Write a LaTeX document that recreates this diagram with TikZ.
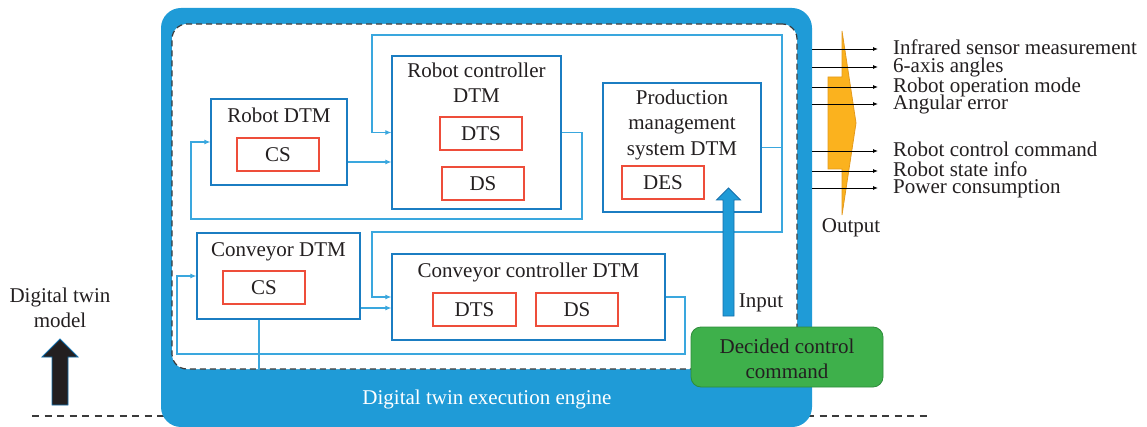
\documentclass[tikz,border=0pt]{standalone}
\usepackage{fontspec}
\setmainfont{Liberation Serif}
\usetikzlibrary{arrows.meta}

\definecolor{engblue}{HTML}{1F9BD7}
\definecolor{engedge}{HTML}{1670AC}
\definecolor{boxblue}{HTML}{1B7DC2}
\definecolor{lineblue}{HTML}{3AA7DE}
\definecolor{csred}{HTML}{EE4D3A}
\definecolor{txt}{HTML}{231F20}
\definecolor{cmdgreen}{HTML}{3EB04B}
\definecolor{cmdgreenedge}{HTML}{2F8B3B}
\definecolor{outorange}{HTML}{FBB21E}
\definecolor{outorangeedge}{HTML}{E49A1D}
\definecolor{dashgray}{HTML}{3A3A3A}

\begin{document}
\begin{tikzpicture}[x=1pt,y=-1pt,
  font=\fontsize{21}{24}\selectfont, text=txt,
  dtm/.style={draw=boxblue, line width=1.2pt, fill=white, inner sep=0pt},
  subbox/.style={draw=csred, line width=1.2pt, fill=white, inner sep=0pt,
                 minimum width=82pt, minimum height=33pt},
  lbl/.style={anchor=base, inner sep=0pt},
  conn/.style={draw=lineblue, line width=1.1pt},
  connarr/.style={conn, -{Latex[length=6pt,width=5pt]}},
  outarr/.style={draw=black, line width=0.9pt, -{Latex[length=5pt,width=4pt]}},
  outlbl/.style={anchor=base west, inner sep=0pt}]

\useasboundingbox (0,0) rectangle (1147,427);

% layer boundary
\draw[dashgray, line width=1.2pt, dash pattern=on 7pt off 5.5pt] (32,416) -- (928,416);

% execution engine and the model area inside it
\node[fill=engblue, rounded corners=20pt, minimum width=651pt, minimum height=419pt,
      inner sep=0pt] (engine) at (486.5,217.5) {};
\node[draw=dashgray, dash pattern=on 6pt off 4pt, line width=1.2pt, fill=white,
      rounded corners=15pt, minimum width=625pt, minimum height=345pt,
      inner sep=0pt] (area) at (484.5,196.5) {};
\node[lbl, text=white] (engtxt) at (487,404) {Digital twin execution engine};

% DTM blocks
\node[dtm, minimum width=136pt, minimum height=86pt] (robot) at (279,142) {};
\node[dtm, minimum width=169pt, minimum height=153pt] (rc) at (476.5,132.5) {};
\node[dtm, minimum width=158pt, minimum height=129pt] (pms) at (682,147.5) {};
\node[dtm, minimum width=163pt, minimum height=86pt] (conv) at (278.5,276) {};
\node[dtm, minimum width=273pt, minimum height=86pt] (cc) at (528.5,297) {};

% connectors
\coordinate (rA) at ([yshift=-20pt]robot.east);
\draw[connarr] (rA) -- (rA -| rc.west);

\coordinate (rl1) at (582,219);
\coordinate (rl2) at (191,219);
\draw[connarr] (rc.east) -| (rl1) -- (rl2) |- (robot.west);

\coordinate (busR) at (782,147.5);
\coordinate (busT) at (372,35);
\coordinate (busM) at (372,232);
\draw[conn] (pms.east) -- (busR);
\draw[connarr] (busR) |- (busT) |- (rc.west);
\draw[connarr] (busR) |- (busM) |- (cc.west);

\coordinate (cA) at ([yshift=-32pt]conv.east);
\draw[connarr] (cA) -- (cA -| cc.west);

\coordinate (cl1) at (685,354);
\coordinate (cl2) at (177,354);
\draw[connarr] (cc.east) -| (cl1) -- (cl2) |- (conv.west);

\coordinate (cdrop) at (259,369);
\draw[conn] (cdrop |- conv.south) -- (cdrop);

% block titles
\node[lbl] (robotT) at (279,123) {Robot DTM};
\node[lbl] (rcT1) at (476.5,78) {Robot controller};
\node[lbl] (rcT2) at (476.5,103) {DTM};
\node[lbl] (pmsT1) at (682,105) {Production};
\node[lbl] (pmsT2) at (682,130) {management};
\node[lbl] (pmsT3) at (682,156) {system DTM};
\node[lbl] (convT) at (278.5,257) {Conveyor DTM};
\node[lbl] (ccT) at (528.5,277) {Conveyor controller DTM};

% inner services
\node[subbox] (cs1) at (278,154.5) {CS};
\node[subbox] (dts1) at (481,133.5) {DTS};
\node[subbox] (ds1) at (483,183.5) {DS};
\node[subbox] (des) at (663,182.5) {DES};
\node[subbox] (cs2) at (264,287.5) {CS};
\node[subbox, minimum width=83pt] (dts2) at (474.5,309.5) {DTS};
\node[subbox] (ds2) at (577,309.5) {DS};

% input arrow
\draw[fill=engblue, draw=engedge, line width=0.8pt]
  (723,316) -- (723,200) -- (716.5,200) -- (728.5,188) -- (740.5,200)
  -- (734,200) -- (734,316) -- cycle;
\node[lbl] (inT) at (761,307) {Input};

% decided control command
\node[fill=cmdgreen, draw=cmdgreenedge, line width=0.8pt, rounded corners=10pt,
      minimum width=192pt, minimum height=60pt, inner sep=0pt] (cmd) at (787,357) {};
\node[lbl] (cmdT1) at (787,353) {Decided control};
\node[lbl] (cmdT2) at (787,378) {command};

% output bundle
\draw[fill=outorange, draw=outorangeedge, line width=0.8pt]
  (828,77) -- (842,77) -- (842,31) -- (856,123) -- (842,215) -- (842,169)
  -- (828,169) -- cycle;
\node[lbl] (outT) at (851,233) {Output};

\foreach \n/\y/\t in {o1/49/Infrared sensor measurement, o2/67/6-axis angles,
    o3/87/Robot operation mode, o4/104/Angular error,
    o5/151/Robot control command, o6/171/Robot state info,
    o7/188/Power consumption}{
  \node[outlbl] (\n) at (893,\y+6) {\t};
  \coordinate (tip\n) at ([xshift=-15pt,yshift=6pt]\n.base west);
  \draw[outarr] (tip\n -| engine.east) -- (tip\n);
}

% digital twin model arrow
\node[lbl] (dtmT1) at (60,302) {Digital twin};
\node[lbl] (dtmT2) at (60,327) {model};
\draw[fill=txt, draw=engedge, line width=0.8pt]
  (52,405) -- (52,357) -- (42,357) -- (60,339) -- (78,357) -- (68,357)
  -- (68,405) -- cycle;

\end{tikzpicture}
\end{document}
